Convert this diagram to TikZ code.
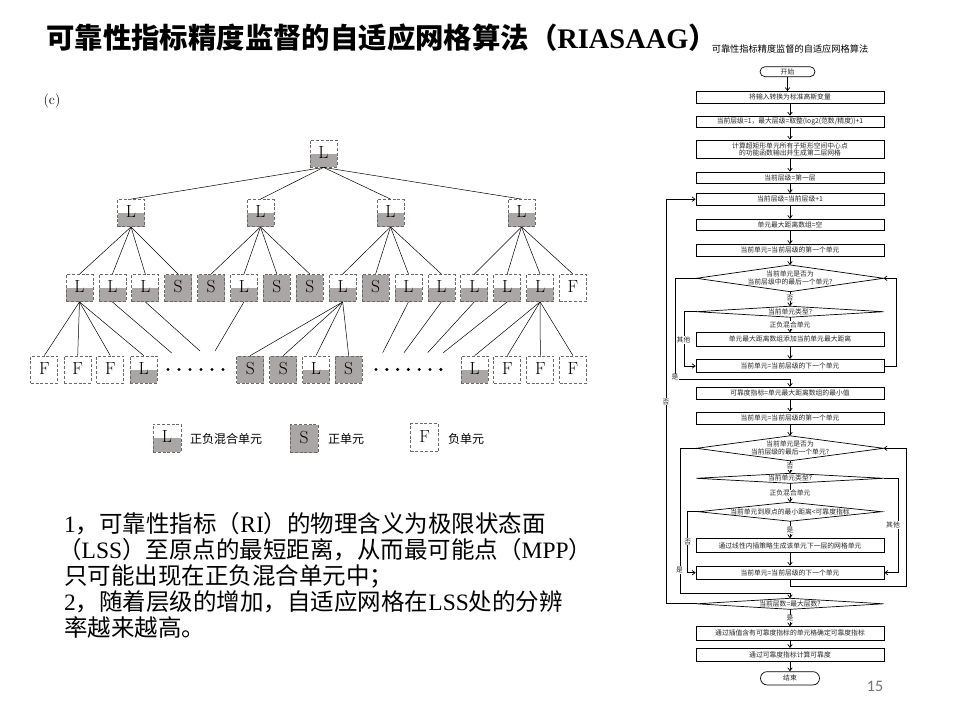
\documentclass[tikz,border=0pt]{standalone}
\usepackage{fontspec}
\newfontfamily\cjk{Noto Sans CJK SC}
\newfontfamily\tms{Liberation Serif}
\newfontfamily\pgnum{Carlito}
\usetikzlibrary{arrows.meta,shapes.geometric}
\definecolor{boxgray}{RGB}{170,166,166}
\definecolor{dashgray}{RGB}{105,105,105}
\newcommand\lat[1]{{\tms #1}}
\begin{document}
\begin{tikzpicture}[x=1pt,y=-1pt,
  tb/.style={draw=dashgray, dash pattern=on 3pt off 1.8pt, line width=0.8pt, minimum size=27pt, inner sep=0pt, text height=9.5pt, text depth=0pt, font=\fontsize{17.5}{17.5}\selectfont},
  tbL/.style={tb, path picture={\fill[boxgray] (path picture bounding box.west) rectangle (path picture bounding box.south east);}},
  tbS/.style={tb, fill=boxgray},
  tbF/.style={tb, fill=white},
  tl/.style={line width=0.5pt},
  fb/.style={draw, line width=0.7pt, minimum width=188pt, minimum height=11.5pt, inner sep=0pt, font=\cjk\fontsize{6.8}{8}\selectfont, text=black!85, align=center},
  tm/.style={fb, rounded corners=5pt, minimum width=55pt, minimum height=10pt},
  dia/.style={draw, diamond, line width=0.7pt, inner sep=0pt, outer sep=0pt},
  dt/.style={font=\cjk\fontsize{6.8}{8}\selectfont, text=black!85, inner sep=0pt, align=center},
  lab/.style={font=\cjk\fontsize{6.8}{8}\selectfont, text=black!85, fill=white, inner sep=0.6pt},
  ar/.style={line width=0.7pt, -{Straight Barb[length=3pt,width=4.5pt]}},
  body/.style={font=\cjk\fontsize{23.5}{26}\selectfont, inner sep=0pt, anchor=base west},
  lg/.style={font=\cjk\fontsize{12}{12}\selectfont, inner sep=0pt, anchor=west}
]
\useasboundingbox[fill=white] (0,0) rectangle (960,720);

% title
\node[anchor=base west, inner sep=0pt, font=\cjk\bfseries\fontsize{28.4}{28.4}\selectfont] (title) at (46,48)
  {可靠性指标精度监督的自适应网格算法（{\tms\bfseries RIASAAG}）};
\node[font=\fontsize{14}{14}\selectfont, inner sep=0pt] (c) at (52,101) {(c)};

% ---------- tree ----------
\node[tbL] (r) at (323.5,153.5) {L};
\foreach \x [count=\i] in {131,260.5,390.5,521.5}
  \node[tbL] (p\i) at (\x,213) {L};
\foreach \t [count=\i] in {L,L,L,S,S,L,S,S,L,S,L,L,L,L,L,F}
  \node[tb\t] (a\i) at ({79.5+32.9*(\i-1)},288) {\t};
\foreach \t/\x [count=\i] in {F/44.3,F/77.7,F/110.3,L/143.7,S/250.3,S/283.3,L/316,S/348.7,L/474.7,F/507.3,F/540.3,F/573}
  \node[tb\t] (c\i) at (\x,369.5) {\t};

\foreach \i in {1,...,4} \draw[tl] (r.south) -- (p\i.north);
\foreach \i in {1,...,4} \draw[tl] (p1.south) -- (a\i.north);
\foreach \i in {5,...,8} \draw[tl] (p2.south) -- (a\i.north);
\foreach \i in {9,...,12} \draw[tl] (p3.south) -- (a\i.north);
\foreach \i in {13,...,16} \draw[tl] (p4.south) -- (a\i.north);
\foreach \i in {1,...,4} \draw[tl] (a1.south) -- (c\i.north);
\foreach \i in {5,...,8} \draw[tl] (a9.south) -- (c\i.north);
\foreach \i in {9,...,12} \draw[tl] (a15.south) -- (c\i.north);

\coordinate (e2) at (171.7,353);
\coordinate (e3) at (200,351);
\coordinate (e6) at (215,351);
\coordinate (e11) at (382.7,352.7);
\coordinate (e12) at (404,352.7);
\coordinate (e13) at (427.7,352.7);
\coordinate (e14) at (443.3,352.7);
\foreach \i in {2,3,6,11,12,13,14} \draw[tl] (a\i.south) -- (e\i);

\foreach \k in {0,...,5} \fill (168+11*\k,369.5) circle (1.7pt);
\foreach \k in {0,...,6} \fill (376+10.8*\k,369.5) circle (1.7pt);

% legend
\node[tbL, minimum size=28pt] (kL) at (167,438) {L};
\node[lg] (kLt) at (190,439) {正负混合单元};
\node[tbS, minimum size=28pt] (kS) at (304,438.5) {S};
\node[lg] (kSt) at (328,439) {正单元};
\node[tbF, minimum size=28pt] (kF) at (424.6,437.5) {F};
\node[lg] (kFt) at (448,439) {负单元};

% body text
\node[body] (t1) at (64,532.7) {\lat{1}，可靠性指标（\lat{RI}）的物理含义为极限状态面};
\node[body] (t2) at (58,558.7) {（\lat{LSS}）至原点的最短距离，从而最可能点（\lat{MPP}）};
\node[body] (t3) at (64,584.7) {只可能出现在正负混合单元中；};
\node[body] (t4) at (64,610.7) {\lat{2}，随着层级的增加，自适应网格在\lat{LSS}处的分辨};
\node[body] (t5) at (64,636.7) {率越来越高。};

\node[font=\pgnum\fontsize{16}{16}\selectfont, text=black!55, inner sep=0pt] (pg) at (875,686) {15};

% ---------- flowchart ----------
\node[font=\cjk\fontsize{9.2}{10}\selectfont, inner sep=0pt] (ft) at (790,49) {可靠性指标精度监督的自适应网格算法};
\node[tm] (st) at (787.5,71.7) {开始};
\node[fb] (b1) at (790,97.2) {将输入转换为标准高斯变量};
\node[fb] (b2) at (790,121.7) {当前层级=1，最大层级=取整(log2(范数/精度))+1};
\node[fb, minimum height=18.5pt] (b3) at (790,149.2) {计算超矩形单元所有子矩形空间中心点\\[-1pt]的功能函数输出并生成第二层网格};
\node[fb] (b4) at (790,177.8) {当前层级=第一层};
\node[fb] (b5) at (790,199.2) {当前层级=当前层级+1};
\node[fb] (b6) at (790,225) {单元最大距离数组=空};
\node[fb] (b7) at (790,250.2) {当前单元=当前层级的第一个单元};
\node[dia, minimum width=187pt, minimum height=26.7pt] (d1) at (790,278.3) {};
\node[dt] (d1t) at (790,278.3) {当前单元是否为\\当前层级中的最后一个单元?};
\node[dia, minimum width=187pt, minimum height=11pt] (d2) at (790,311.7) {};
\node[dt] (d2t) at (790,311.7) {当前单元类型?};
\node[fb, minimum height=13.3pt] (b8) at (790,339.3) {单元最大距离数组添加当前单元最大距离};
\node[fb, minimum height=13.3pt] (b9) at (790,366) {当前单元=当前层级的下一个单元};
\node[fb, minimum height=12.2pt] (b10) at (790,393.3) {可靠度指标=单元最大距离数组的最小值};
\node[fb, minimum height=12.2pt] (b11) at (790,418) {当前单元=当前层级的第一个单元};
\node[dia, minimum width=187pt, minimum height=25pt] (d3) at (790,448.3) {};
\node[dt] (d3t) at (790,448.3) {当前单元是否为\\当前层级的最后一个单元?};
\node[dia, minimum width=187pt, minimum height=10pt] (d4) at (790,478.3) {};
\node[dt] (d4t) at (790,478.3) {当前单元类型?};
\node[dia, minimum width=183pt, minimum height=19pt] (d5) at (790,511.7) {};
\node[dt] (d5t) at (790,511.7) {当前单元到原点的最小距离<可靠度指标};
\node[fb, minimum height=14pt] (b12) at (790,545.5) {通过线性内插策略生成该单元下一层的网格单元};
\node[fb, minimum height=13.3pt] (b13) at (790,572.7) {当前单元=当前层级的下一个单元};
\node[dia, minimum width=187pt, minimum height=11pt] (d6) at (790,603.8) {};
\node[dt] (d6t) at (790,603.8) {当前层数=最大层数?};
\node[fb, minimum height=13.3pt] (b14) at (790,633.3) {通过插值含有可靠度指标的单元格确定可靠度指标};
\node[fb, minimum height=13.3pt] (b15) at (790,655) {通过可靠度指标计算可靠度};
\node[tm, minimum width=59pt, minimum height=13.3pt, rounded corners=6.6pt] (en) at (790,678.3) {结束};

\draw[ar] (st.south) -- (st.south |- b1.north);
\draw[ar] (b1.south) -- (b2.north);
\draw[ar] (b2.south) -- (b3.north);
\draw[ar] (b3.south) -- (b4.north);
\draw[ar] (b4.south) -- (b5.north);
\draw[ar] (b5.south) -- (b6.north);
\draw[ar] (b6.south) -- (b7.north);
\draw[ar] (b7.south) -- (d1.north);
\draw[ar] (d1.south) -- (d2.north);
\draw[ar] (d2.south) -- (b8.north);
\draw[ar] (b8.south) -- (b9.north);
\draw[ar] (b9.east) -- ++(11.7,0) |- (d1.east);
\draw[ar] (d2.west) -- ++(-12,0) |- (b9.west);
\draw[ar] (d1.west) -- ++(-21.5,0) -- ++(0,100.7) -| (b10.north);
\draw[ar] (b10.south) -- (b11.north);
\draw[ar] (b11.south) -- (d3.north);
\draw[ar] (d3.south) -- (d4.north);
\draw[ar] (d4.south) -- (d5.north);
\draw[ar] (d5.south) -- (b12.north);
\draw[ar] (b12.south) -- (b13.north);
\draw[ar] (d5.west) -- ++(-10.8,0) |- (b13.west);
\draw[ar] (d4.east) -- ++(14.7,0) |- (b13.east);
\draw[ar] (b13.south) -- ++(0,6.5) -- ++(116,0) |- (d3.east);
\draw[ar] (d3.west) -- ++(-16.5,0) -- ++(0,145) -| (d6.north);
\draw[ar] (d6.west) -- ++(-30.5,0) |- (b5.west);
\draw[ar] (d6.south) -- (b14.north);
\draw[ar] (b14.south) -- (b15.north);
\draw[ar] (b15.south) -- (en.north);

\node[lab] (l1) at (790,297.8) {否};
\node[lab] (l2) at (790,325) {正负混合单元};
\node[lab] (l3) at (683.5,340) {其他};
\node[lab] (l4) at (675,377.3) {是};
\node[lab] (l5) at (666,401.7) {否};
\node[lab] (l6) at (790,466.5) {否};
\node[lab] (l7) at (790,493.3) {正负混合单元};
\node[lab] (l8) at (790,530) {是};
\node[lab] (l9) at (687.7,541.7) {否};
\node[lab] (l10) at (893,525) {其他};
\node[lab] (l11) at (679.5,570) {是};
\node[lab] (l12) at (790,618.3) {是};
\end{tikzpicture}
\end{document}
